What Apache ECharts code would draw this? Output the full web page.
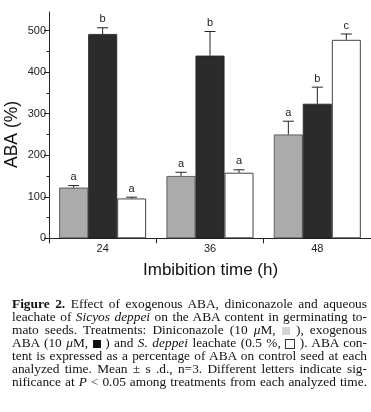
<!DOCTYPE html>
<html><head><meta charset="utf-8">
<script src="https://cdn.jsdelivr.net/npm/echarts@6/dist/echarts.min.js"></script>
<style>
html,body{margin:0;padding:0;background:#fff;}
#chart{position:absolute;left:0;top:0;width:371px;height:412px;}
#cap{position:absolute;left:12px;top:297px;width:355px;font-family:"Liberation Serif","Times New Roman",serif;font-size:12.5px;line-height:13px;color:#111;}
#cap div{white-space:nowrap;}
#cap.j div{text-align:justify;text-align-last:justify;}
.sq{display:inline-block;width:8px;height:8px;vertical-align:-0.5px;box-sizing:border-box;}
</style></head>
<body>
<div id="chart"></div>
<div id="cap">
<div><b>Figure 2.</b> Effect of exogenous ABA, diniconazole and aqueous</div>
<div>leachate of <i>Sicyos deppei</i> on the ABA content in germinating to-</div>
<div>mato seeds. Treatments: Diniconazole (10 <i>μ</i>M, <span class="sq" style="background:#d4d4d4"></span> ), exogenous</div>
<div>ABA (10 <i>μ</i>M, <span class="sq" style="background:#111"></span> ) and <i>S. deppei</i> leachate (0.5 %, <span class="sq" style="border:1px solid #333;width:10px;height:10px;vertical-align:-1.5px"></span> ). ABA con-</div>
<div>tent is expressed as a percentage of ABA on control seed at each</div>
<div>analyzed time. Mean ± s .d., n=3. Different letters indicate sig-</div>
<div>nificance at <i>P</i> &lt; 0.05 among treatments from each analyzed time.</div>
</div>
<script>
var categories = ['24', '36', '48'];
var diniconazole = [122, 150, 250];
var diniconazoleErr = [5, 9, 32];
var exoABA = [492, 440, 324];
var exoABAErr = [15, 58, 40];
var leachate = [96, 158, 478];
var leachateErr = [3, 7, 14];
var lettersDini = ['a', 'a', 'a'];
var lettersABA = ['b', 'b', 'b'];
var lettersLeach = ['a', 'a', 'c'];
var majorTicks = [0, 100, 200, 300, 400, 500];
var minorTicks = [50, 150, 250, 350, 450];

// fit caption font so the widest line nearly fills the column
(function () {
  var cap = document.getElementById('cap');
  var lines = cap.querySelectorAll('div');
  var maxW = 0;
  lines.forEach(function (d) {
    var s = document.createElement('span');
    while (d.firstChild) s.appendChild(d.firstChild);
    d.appendChild(s);
    maxW = Math.max(maxW, s.getBoundingClientRect().width);
  });
  var fs = 12.5 * 348 / maxW;
  cap.style.fontSize = fs.toFixed(2) + 'px';
  cap.className = 'j';
})();

var BW = 29;
function errSeries(vals, errs, letters, idx) {
  return {
    type: 'custom', xAxisIndex: 0, yAxisIndex: 0, z: 10,
    data: vals.map(function (v, i) { return [i, v, errs[i]]; }),
    renderItem: function (params, api) {
      var ci = api.value(0), v = api.value(1), e = api.value(2);
      var base = api.coord([ci, v]);
      var top = api.coord([ci, v + e]);
      var x = base[0] + (idx - 1) * BW;
      return {
        type: 'group',
        children: [
          { type: 'line', shape: { x1: x, y1: base[1], x2: x, y2: top[1] }, style: { stroke: '#222', lineWidth: 1 } },
          { type: 'line', shape: { x1: x - 5.5, y1: top[1], x2: x + 5.5, y2: top[1] }, style: { stroke: '#222', lineWidth: 1 } },
          { type: 'text', style: { x: x, y: top[1] - 3, text: letters[params.dataIndex], textAlign: 'center', textVerticalAlign: 'bottom', font: '11px "Liberation Sans", Arial, sans-serif', fill: '#222' } }
        ]
      };
    }
  };
}
var chart = echarts.init(document.getElementById('chart'));
chart.setOption({
  animation: false,
  grid: { left: 49, right: -3, top: 12, bottom: 173.7 },
  xAxis: {
    type: 'category', data: categories,
    axisLine: { lineStyle: { color: '#222', width: 1 } },
    axisTick: { show: true, interval: 0, length: 5, lineStyle: { color: '#222' } },
    axisLabel: { color: '#222', fontSize: 11, margin: 5, fontFamily: '"Liberation Sans", Arial, sans-serif' }
  },
  yAxis: [{
    type: 'value', min: 0, max: 545,
    axisLine: { show: true, lineStyle: { color: '#222', width: 1 } },
    axisTick: { show: true, length: 5, customValues: majorTicks, lineStyle: { color: '#222' } },
    axisLabel: { customValues: majorTicks, color: '#222', fontSize: 11, margin: 3, fontFamily: '"Liberation Sans", Arial, sans-serif' },
    splitLine: { show: false }
  }, {
    type: 'value', min: 0, max: 545, position: 'left',
    axisLine: { show: false },
    axisTick: { show: true, length: 2.5, customValues: minorTicks, lineStyle: { color: '#222' } },
    axisLabel: { show: false },
    splitLine: { show: false }
  }],
  graphic: [
    { type: 'text', left: 143, top: 262, style: { text: 'Imbibition time (h)', font: '17px "Liberation Sans", Arial, sans-serif', fill: '#111' } },
    { type: 'text', x: 3, y: 168, rotation: Math.PI / 2, style: { text: 'ABA (%)', font: '17.5px "Liberation Sans", Arial, sans-serif', fill: '#111' } }
  ],
  series: [
    { type: 'bar', data: diniconazole, barWidth: BW, barGap: '0%', itemStyle: { color: '#ababab', borderColor: '#444', borderWidth: 0.8 } },
    { type: 'bar', data: exoABA, barWidth: BW, barGap: '0%', itemStyle: { color: '#2b2b2b', borderColor: '#222', borderWidth: 0.8 } },
    { type: 'bar', data: leachate, barWidth: BW, barGap: '0%', itemStyle: { color: '#ffffff', borderColor: '#444', borderWidth: 1 } },
    errSeries(diniconazole, diniconazoleErr, lettersDini, 0),
    errSeries(exoABA, exoABAErr, lettersABA, 1),
    errSeries(leachate, leachateErr, lettersLeach, 2)
  ]
});
</script>
</body></html>
